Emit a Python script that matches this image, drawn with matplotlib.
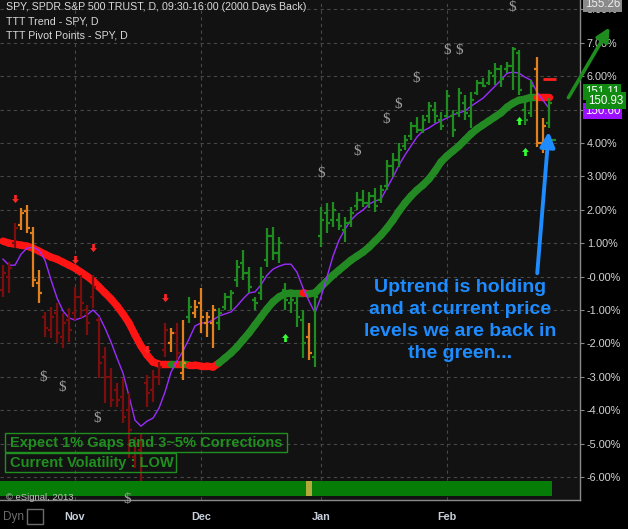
import matplotlib
matplotlib.use('Agg')
import matplotlib.pyplot as plt
import numpy as np
from matplotlib.collections import LineCollection
from matplotlib.patches import Rectangle, FancyArrowPatch
from matplotlib.path import Path
from matplotlib.ticker import FuncFormatter

plt.rcParams['font.family'] = ['Liberation Sans', 'DejaVu Sans']

# ---------------- data (percent change scale) ----------------
high = [0.34, 0.43, 1.60, 2.05, 2.14, 1.48, 0.19, -1.06, -0.91, -0.79,
        -1.09, -0.94, -0.31, 0.04, -0.85, 0.04, -1.21, -2.11, -2.74, -3.19,
        -3.04, -3.49, -4.81, -4.69, -2.95, -2.80, -2.56, -1.39, -1.54, -1.39,
        -1.30, -0.61, -0.70, -0.34, -1.06, -0.85, -0.94, -0.49, -0.40, 0.49,
        0.79, 0.28, -0.61, 0.28, 1.45, 1.48, 1.18, -0.19, -0.61, -0.61,
        -1.00, -1.39, -0.55, 2.08, 2.20, 2.23, 1.90, 1.78, 2.08, 2.53,
        2.59, 2.53, 2.65, 2.74, 3.49, 3.70, 4.00, 4.24, 4.63, 4.78,
        4.84, 5.22, 5.22, 4.93, 5.58, 4.99, 5.64, 5.43, 5.52, 5.88,
        5.94, 6.18, 6.39, 6.33, 6.42, 6.87, 6.78, 5.28, 5.88, 6.57,
        4.75, 5.34]
low = [-0.61, -0.49, 0.85, 1.39, 1.30, -0.31, -0.79, -1.81, -1.84, -1.99,
       -2.14, -1.96, -1.30, -1.24, -1.75, -0.94, -3.04, -3.79, -3.91, -3.91,
       -4.39, -5.43, -5.73, -6.12, -3.91, -3.76, -3.25, -2.41, -2.26, -2.50,
       -3.10, -1.39, -1.24, -1.69, -1.81, -2.14, -1.60, -1.00, -1.00, -0.31,
       -0.10, -0.49, -1.00, -0.70, 0.28, 0.49, 0.40, -1.00, -1.09, -1.51,
       -2.44, -2.50, -2.71, 0.88, 1.30, 1.48, 1.39, 1.03, 1.48, 1.99,
       2.08, 2.05, 1.93, 2.20, 2.59, 2.98, 3.28, 3.79, 4.09, 4.30,
       4.30, 4.60, 4.60, 4.39, 4.75, 4.18, 4.78, 4.69, 4.45, 5.43,
       5.67, 5.73, 5.73, 5.67, 6.09, 5.58, 5.43, 4.54, 4.78, 3.88,
       3.70, 4.45]
opens = [-0.40, 0.00, 1.00, 1.55, 1.95, 1.30, -0.20, -1.20, -1.60, -1.10,
         -1.80, -1.30, -1.10, -0.60, -1.00, -0.60, -1.30, -2.40, -3.00, -3.40,
         -3.60, -4.00, -5.40, -5.20, -3.20, -3.40, -3.00, -2.20, -2.00, -1.70,
         -2.90, -1.20, -1.10, -0.80, -1.40, -1.40, -1.40, -0.90, -0.60, -0.10,
         0.40, 0.10, -0.70, -0.50, 0.50, 1.20, 0.70, -0.40, -0.80, -0.80,
         -1.30, -1.80, -2.40, 1.20, 1.90, 1.70, 1.70, 1.40, 1.60, 2.10,
         2.30, 2.20, 2.40, 2.30, 2.70, 3.30, 3.50, 3.90, 4.20, 4.50,
         4.40, 4.80, 5.00, 4.70, 4.80, 4.80, 4.90, 5.20, 4.80, 5.50,
         5.80, 5.80, 6.00, 6.20, 6.20, 6.30, 6.70, 5.00, 4.90, 6.20,
         4.00, 4.60]
closes = [0.10, 0.25, 1.45, 1.90, 1.45, -0.10, -0.50, -1.55, -1.20, -1.70,
          -1.40, -1.60, -0.60, -0.80, -1.40, -0.30, -2.60, -3.00, -3.70, -3.70,
          -4.20, -4.60, -5.00, -4.90, -3.50, -3.00, -2.70, -1.60, -1.70, -2.30,
          -2.60, -0.90, -0.90, -1.20, -1.20, -1.00, -1.10, -0.60, -0.50, 0.30,
          0.10, -0.30, -0.80, 0.00, 1.20, 0.70, 1.00, -0.70, -0.70, -1.20,
          -2.00, -2.30, -0.60, 1.70, 1.60, 2.00, 1.50, 1.60, 1.90, 2.30,
          2.20, 2.40, 2.10, 2.60, 3.30, 3.50, 3.80, 4.10, 4.50, 4.40,
          4.70, 5.10, 4.80, 4.50, 5.40, 4.40, 5.50, 4.90, 5.30, 5.80,
          5.70, 6.10, 6.20, 5.90, 6.30, 6.80, 5.60, 4.70, 5.70, 4.00,
          4.50, 5.20]
bar_state = "ddd" + "oooo" + "d" * 21 + "odog" + "oooo" + "g" * 15 + "o" + "g" * 37 + "oo" + "g"

trend = [1.06, 1.00, 0.97, 0.94, 0.91, 0.85, 0.76, 0.67, 0.58, 0.52,
         0.43, 0.34, 0.25, 0.13, 0.01, -0.13, -0.31, -0.49, -0.67, -0.88,
         -1.12, -1.39, -1.75, -2.08, -2.35, -2.56, -2.62, -2.62, -2.62, -2.62,
         -2.62, -2.65, -2.65, -2.68, -2.68, -2.71, -2.59, -2.44, -2.29, -2.11,
         -1.90, -1.69, -1.45, -1.21, -0.97, -0.76, -0.61, -0.52, -0.49, -0.49,
         -0.49, -0.52, -0.49, -0.31, -0.13, 0.04, 0.19, 0.34, 0.49, 0.61,
         0.73, 0.88, 1.06, 1.24, 1.45, 1.69, 1.96, 2.20, 2.41, 2.59,
         2.74, 2.92, 3.16, 3.43, 3.61, 3.76, 3.91, 4.09, 4.27, 4.42,
         4.54, 4.66, 4.78, 4.90, 5.07, 5.19, 5.28, 5.31, 5.37, 5.37,
         5.37, 5.37]
trend_state = "r" * 28 + "grg" + "r" * 5 + "g" * 14 + "r" + "g" * 38 + "rrr"

avg = [0.52, 0.34, 0.34, 0.67, 0.85, 0.88, 0.79, 0.49, -0.10, -0.64,
       -1.03, -1.24, -1.30, -1.24, -1.15, -1.00, -1.18, -1.54, -1.96, -2.44,
       -2.89, -3.58, -4.30, -4.48, -4.33, -4.24, -3.94, -3.46, -2.86, -2.53,
       -2.23, -1.87, -1.48, -1.39, -1.39, -1.30, -1.18, -1.12, -1.06, -0.88,
       -0.67, -0.49, -0.46, -0.25, 0.04, 0.22, 0.31, 0.37, 0.37, 0.13,
       -0.34, -0.73, -1.09, -0.61, -0.01, 0.61, 1.09, 1.42, 1.69, 1.87,
       1.99, 2.17, 2.26, 2.32, 2.65, 2.98, 3.34, 3.64, 3.91, 4.18,
       4.36, 4.45, 4.57, 4.66, 4.75, 4.84, 4.90, 4.96, 5.10, 5.22,
       5.34, 5.52, 5.70, 5.88, 6.09, 6.12, 6.09, 5.97, 5.88, 5.52,
       5.28, 5.04]

down_arrow_x = [2, 12, 15, 24, 27]
down_arrow_y = [2.32, 0.49, 0.85, -2.20, -0.64]
up_arrow_x = [47, 86, 87]
up_arrow_y = [-1.81, 4.69, 3.76]
dollar_x = [6.7, 9.8, 15.7, 20.7, 53, 59, 63.8, 65.8, 68.8, 74, 76, 84.8]
dollar_y = [-3.01, -3.31, -4.24, -6.69, 3.10, 3.73, 4.69, 5.16, 5.94, 6.78, 6.78, 8.07]

vol_state = "g" * 51 + "y" + "g" * 40
month_pos = [12, 33, 53, 74]
month_labels = ["Nov", "Dec", "Jan", "Feb"]
pct_ticks = list(range(-6, 9))

pivot_red = 5.91
pivot_green = 4.09

price_labels = ["155.26", "150.60", "151.11", "150.93"]

# ---------------- figure ----------------
W, H = 628, 529
fig = plt.figure(figsize=(W / 100, H / 100), dpi=100, facecolor='black')
ax = fig.add_axes([0, 29 / H, 580 / W, 500 / H])
ax.set_facecolor('#121212')


def P(x, y):
    return (x / W, 1 - y / H)


n = len(high)
x = np.arange(n)
ax.set_xlim(-0.5, 96.17)
ax.set_ylim(-6.69, 8.28)

# grid
ax.set_yticks(pct_ticks)
ax.set_xticks(month_pos)
ax.set_xticklabels(month_labels)
ax.grid(True, color='#474747', linestyle=(0, (3, 3)), linewidth=0.8, zorder=0)
ax.set_axisbelow(True)

for s in ['left', 'top']:
    ax.spines[s].set_visible(False)
for s in ['right', 'bottom']:
    ax.spines[s].set_color('#8a8a8a')
    ax.spines[s].set_linewidth(1.0)

ax.yaxis.tick_right()
ax.yaxis.set_major_formatter(FuncFormatter(lambda v, p: '-0.00%' if abs(v) < 1e-9 else f'{v:.2f}%'))
ax.tick_params(axis='y', colors='#8a8a8a', labelcolor='#d4d4d4', labelsize=7.8, length=3, pad=2)
ax.tick_params(axis='x', length=0, labelcolor='#c8d0dc', labelsize=7.8, pad=9)
for lab in ax.get_xticklabels():
    lab.set_fontweight('bold')

# volatility band
vcol = {'g': '#067d06', 'y': '#b2aa3a'}
ax.bar(x, 0.45, bottom=-6.57, width=1.0, color=[vcol[c] for c in vol_state], zorder=1, linewidth=0)

# trend line
pts = np.column_stack([x, trend])
segs = [pts[i:i + 2] for i in range(n - 1)]
tcol = {'r': '#ff1414', 'g': '#238a23'}
lc = LineCollection(segs, colors=[tcol[c] for c in trend_state[:n - 1]], linewidths=5.3,
                    capstyle='round', zorder=2)
ax.add_collection(lc)

# purple average
ax.plot(x, avg, color='#9a2cff', lw=1.0, zorder=2.5)

# OHLC bars
bcol = {'d': '#7e0d0d', 'o': '#e3801e', 'g': '#1f8c1f'}
cols = [bcol[c] for c in bar_state]
ax.vlines(x, low, high, colors=cols, lw=1.6, zorder=3)
ax.hlines(opens, x - 0.5, x, colors=cols, lw=1.6, zorder=3)
ax.hlines(closes, x, x + 0.5, colors=cols, lw=1.6, zorder=3)

# pivot marks
ax.hlines([pivot_red], 90.0, 92.2, colors='#ff2020', lw=2.0, zorder=3)
ax.hlines([pivot_green], 91.2, 92.2, colors='#1f8c1f', lw=1.6, zorder=3)

# signal arrows
down_path = Path([(-0.3, 1.0), (0.3, 1.0), (0.3, 0.1), (0.75, 0.1), (0, -0.8), (-0.75, 0.1), (-0.3, 0.1), (-0.3, 1.0)],
                 [Path.MOVETO] + [Path.LINETO] * 6 + [Path.CLOSEPOLY])
up_path = Path([(-0.3, -1.0), (0.3, -1.0), (0.3, -0.1), (0.75, -0.1), (0, 0.8), (-0.75, -0.1), (-0.3, -0.1), (-0.3, -1.0)],
               [Path.MOVETO] + [Path.LINETO] * 6 + [Path.CLOSEPOLY])
ax.plot(down_arrow_x, down_arrow_y, linestyle='none', marker=down_path, markersize=6.5,
        color='#ff2424', markeredgewidth=0, zorder=4)
ax.plot(up_arrow_x, up_arrow_y, linestyle='none', marker=up_path, markersize=6.5,
        color='#33ff33', markeredgewidth=0, zorder=4)

# dollar signs
for dx, dy in zip(dollar_x, dollar_y):
    ax.text(dx, dy, '$', color='#9c9c9c', fontsize=11, ha='center', va='center',
            family='Liberation Serif', zorder=4, clip_on=False)

# ---------------- annotations in figure pixels ----------------
titles = ["SPY, SPDR S&P 500 TRUST, D, 09:30-16:00 (2000 Days Back)",
          "TTT Trend - SPY, D", "TTT Pivot Points - SPY, D"]
for t, yy in zip(titles, [7, 22, 36]):
    fig.text(*P(6, yy), t, color='#d8d8d8', fontsize=7.7, ha='left', va='center')

green_txt = '#1f8f1f'
fig.patches.append(Rectangle(P(5, 452), 282 / W, 19 / H, transform=fig.transFigure,
                             fill=False, edgecolor=green_txt, lw=1.0))
fig.patches.append(Rectangle(P(5, 472), 171 / W, 19 / H, transform=fig.transFigure,
                             fill=False, edgecolor=green_txt, lw=1.0))
fig.text(*P(10, 443), "Expect 1% Gaps and 3~5% Corrections", color=green_txt,
         fontsize=10.5, fontweight='bold', ha='left', va='center')
fig.text(*P(10, 463), "Current Volatility : LOW", color=green_txt,
         fontsize=10.5, fontweight='bold', ha='left', va='center')

fig.text(*P(6, 498), "© eSignal, 2013", color='#c0c0c0', fontsize=6.8, ha='left', va='center')
fig.text(*P(3, 517), "Dyn", color='#6c6c6c', fontsize=8.5, ha='left', va='center')
fig.patches.append(Rectangle(P(27, 524), 16 / W, 15 / H, transform=fig.transFigure,
                             fill=False, edgecolor='#6c6c6c', lw=1.0))

blue = '#1e8cff'
for line, yy in zip(["Uptrend is holding", "and at current price", "levels we are back in", "the green..."],
                    [288, 310, 331, 353]):
    fig.text(*P(460, yy), line, color=blue, fontsize=14, fontweight='bold', ha='center', va='center')

fig.add_artist(FancyArrowPatch(P(537, 276), P(549, 129), transform=fig.transFigure,
                               arrowstyle='-|>', mutation_scale=22, color=blue, lw=2.8))
fig.add_artist(FancyArrowPatch(P(567, 100), P(611, 25), transform=fig.transFigure,
                               arrowstyle='-|>', mutation_scale=20, color='#1e8c1e', lw=2.6))

# price boxes on right axis
fig.text(*P(585, 4), price_labels[0], color='#eeeeee', fontsize=8.3, ha='left', va='center', zorder=10,
         bbox=dict(boxstyle='square,pad=0.15', fc='#8a8a8a', ec='none'))
fig.text(*P(585, 111), price_labels[1], color='#ffffff', fontsize=8.3, ha='left', va='center', zorder=10,
         bbox=dict(boxstyle='square,pad=0.15', fc='#9a10ff', ec='none'))
fig.text(*P(585, 92), price_labels[2], color='#ffffff', fontsize=8.3, ha='left', va='center', zorder=11,
         bbox=dict(boxstyle='square,pad=0.15', fc='#108a10', ec='none'))
fig.text(*P(588, 100.5), price_labels[3], color='#ffffff', fontsize=8.3, ha='left', va='center', zorder=12,
         bbox=dict(boxstyle='square,pad=0.2', fc='#108a10', ec='none'))

fig.savefig('out.png', dpi=100, facecolor='black')
